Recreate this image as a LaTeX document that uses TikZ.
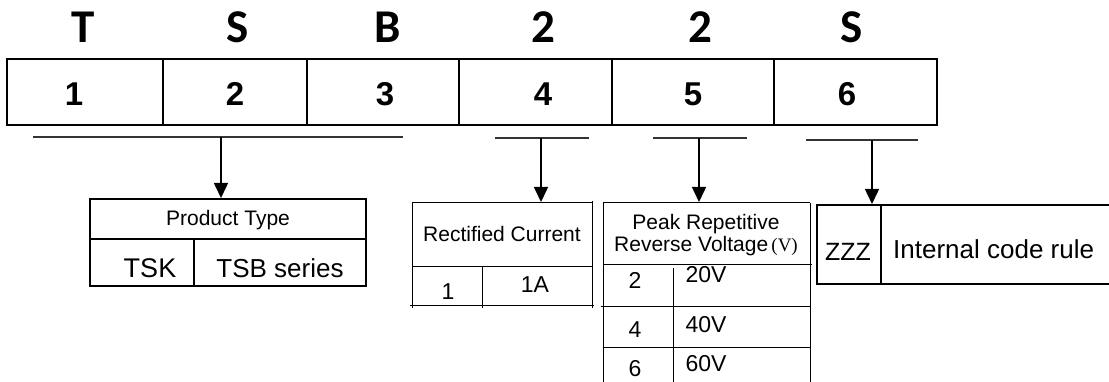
\documentclass[tikz,border=0pt]{standalone}
\usepackage{fontspec}
\setmainfont{Liberation Sans}
\newfontfamily\carl{Carlito}
\newfontfamily\serifv{Liberation Serif}
\usetikzlibrary{arrows.meta}
\begin{document}
\begin{tikzpicture}[x=1pt,y=-1pt,
  thick line/.style={line width=2.2pt},
  thin line/.style={line width=1pt},
  under/.style={line width=1.3pt,draw=black!80},
  pointer/.style={line width=1.5pt,-{Triangle[width=14pt,length=15pt]}},
  txt/.style={anchor=base,inner sep=0pt},
  letter/.style={txt,font=\carl\bfseries\fontsize{47}{52}\selectfont},
  digit/.style={txt,font=\bfseries\fontsize{33}{36}\selectfont},
  lab/.style={txt,font=\fontsize{21}{24}\selectfont},
  val/.style={txt,font=\fontsize{23}{26}\selectfont}]
\useasboundingbox (0,0) rectangle (1109,382);
% top letters
\node[letter] (l1) at (83,43) {T};
\node[letter] (l2) at (238,43) {S};
\node[letter] (l3) at (388,43) {B};
\node[letter] (l4) at (543,43) {2};
\node[letter] (l5) at (700,43) {2};
\node[letter] (l6) at (852,43) {S};
% main box
\draw[thick line] (7,59) rectangle (937,125);
\foreach \xx in {163,307,459,612,774} \draw[thick line] (\xx,59) -- (\xx,125);
\node[digit] (d1) at (74,106) {1};
\node[digit] (d2) at (235,106) {2};
\node[digit] (d3) at (385,106) {3};
\node[digit] (d4) at (543,106) {4};
\node[digit] (d5) at (693,106) {5};
\node[digit] (d6) at (847,106) {6};
% underlines and arrows
\coordinate (a1) at (221,137); \coordinate (b1) at (221,198);
\coordinate (a2) at (541,138); \coordinate (b2) at (541,202);
\coordinate (a3) at (699,138); \coordinate (b3) at (699,202);
\coordinate (a4) at (872,140); \coordinate (b4) at (872,204);
\draw[under] (33,137) -- (403,137);
\draw[under] (495,138) -- (589,138);
\draw[under] (653,138) -- (747,138);
\draw[under] (806,140) -- (918,140);
\draw[pointer] (a1) -- (b1);
\draw[pointer] (a2) -- (b2);
\draw[pointer] (a3) -- (b3);
\draw[pointer] (a4) -- (b4);
% Product type box
\draw[thick line] (90,199) rectangle (366,286);
\draw[thick line] (90,239) -- (366,239);
\draw[thick line] (194,239) -- (194,286);
\node[lab] (pt) at (228,226) {Product Type};
\node[txt,font=\fontsize{27}{30}\selectfont] (tsk) at (150,277) {TSK};
\node[txt,font=\fontsize{26}{30}\selectfont] (tsb) at (280,277) {TSB series};
% Rectified current table
\draw[thin line] (412,203) -- (592,203);
\draw[thin line] (412,203) -- (412,308);
\draw[thin line] (592,201) -- (592,308);
\draw[thin line] (412,267) -- (592,267);
\draw[thin line] (410,305) -- (594,305);
\draw[thin line] (482,267) -- (482,308);
\node[lab] (rc) at (502,242) {Rectified Current};
\node[val] (r1) at (448,300) {1};
\node[val] (r1a) at (535,293) {1A};
% Peak repetitive reverse voltage table
\draw[thin line] (603,203) -- (810,203);
\draw[thin line] (603,203) -- (603,382);
\draw[thin line] (810,203) -- (810,382);
\draw[thin line] (603,265) -- (812,265);
\draw[thin line] (673,268) -- (673,382);
\draw[thin line] (601,306) -- (810,306);
\draw[thin line] (603,347) -- (810,347);
\node[lab] (pk1) at (706,230) {Peak Repetitive};
\node[lab] (pk2) at (706,252) {Reverse Voltage{\serifv\fontsize{19}{22}\selectfont\,(V)}};
\node[val] (v2) at (635,289) {2};
\node[val] (v20) at (706,283) {20V};
\node[val] (v4) at (635,337) {4};
\node[val] (v40) at (706,332) {40V};
\node[val] (v6) at (635,376) {6};
\node[val] (v60) at (706,371) {60V};
% Internal code box
\draw[thick line] (1115,205) -- (817,205) -- (817,284) -- (1115,284);
\draw[thick line] (881,205) -- (881,284);
\node[txt,font=\fontsize{25}{28}\selectfont] (zzz) at (848,261) {ZZZ};
\node[txt,anchor=base west,font=\fontsize{26}{30}\selectfont] (icr) at (893,259) {Internal code rule};
\end{tikzpicture}
\end{document}
